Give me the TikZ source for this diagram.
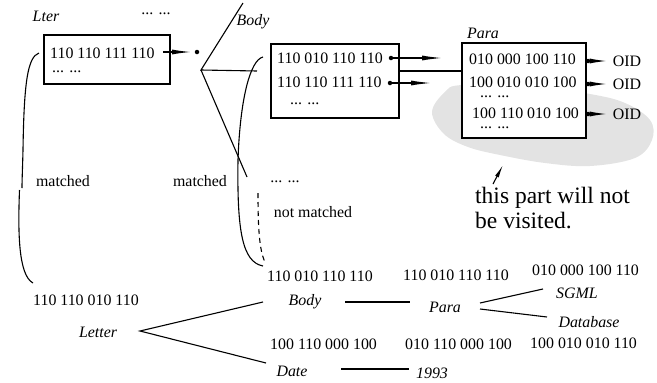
\documentclass[tikz,border=0pt]{standalone}
\usepackage{fontspec}
\setmainfont{Liberation Serif}
\usetikzlibrary{arrows.meta}
\begin{document}
\begin{tikzpicture}[x=1pt,y=-1pt,
  txt/.style={font=\fontsize{15.9}{17}\selectfont, inner sep=0pt},
  lab/.style={font=\fontsize{15.9}{17}\selectfont\itshape, inner sep=0pt},
  note/.style={font=\fontsize{23.5}{25}\selectfont, inner sep=0pt, align=left},
  recbox/.style={draw, fill=white, line width=1.4pt, inner sep=0pt},
  ln/.style={line width=1.1pt},
  dotm/.style={circle, fill, inner sep=0pt, minimum size=4.5pt},
  tipline/.style={ln, -{Latex[length=#1, width=5pt]}},
  tipline/.default=20pt]
\useasboundingbox (0,0) rectangle (657,383);

% shaded region that is skipped
\fill[gray!22] plot[smooth cycle, tension=0.6] coordinates
  {(432,112) (445,92) (462,85) (530,86) (590,94) (625,103) (650,120)
   (652,140) (635,158) (590,166) (545,163) (500,155) (468,147) (444,134)};

% ---------- Letter level ----------
\node[lab] (lter) at (46,16) {Lter};
\node[txt] (topdots) at (156,14) {... ...};
\node[recbox, minimum width=126pt, minimum height=49pt] (box1) at (107,59.5) {};
\node[txt, anchor=west] (b1r1) at (50,53) {110 110 111 110};
\node[txt, anchor=west] (b1r2) at (52,72) {... ...};
\node[dotm] (dot1) at (197,52) {};
\coordinate (b1out) at (163,52);
\draw[tipline=19pt] (b1out) -- ([xshift=-6pt]dot1.center);

% ---------- fork towards Body ----------
\coordinate (fork) at (201,70);
\coordinate (forktop) at (243,3);
\coordinate (forkmid) at (257,71);
\coordinate (forklow) at (247,177);
\draw[ln] (forktop) -- (fork) -- (forkmid);
\draw[ln] (fork) -- (forklow);
\node[lab] (bodytop) at (253,22) {Body};

% ---------- Body level ----------
\node[recbox, minimum width=128pt, minimum height=74pt] (box2) at (335,81) {};
\node[txt, anchor=west] (b2r1) at (277,58) {110 010 110 110};
\node[txt, anchor=west] (b2r2) at (277,82) {110 110 111 110};
\node[txt, anchor=west] (b2r3) at (290,104) {... ...};
\node[dotm] (dot2) at (391,58) {};
\node[dotm] (dot3) at (390,83) {};
\coordinate (a2end) at (442,58);
\coordinate (a3end) at (431,83);
\draw[tipline] (dot2.center) -- (a2end);
\draw[tipline] (dot3.center) -- (a3end);

% ---------- Para level ----------
\node[lab] (paratop) at (483,33) {Para};
\node[recbox, minimum width=124pt, minimum height=95pt] (pbox) at (524,90.5) {};
\draw[ln] ([yshift=10pt]box2.east) -- ([yshift=10pt]box2.east -| pbox.west);
\node[txt, anchor=west] (pr1) at (469,59) {010 000 100 110};
\node[txt, anchor=west] (pr2) at (469,82) {100 010 010 100};
\node[txt, anchor=west] (pr3) at (480,97) {... ...};
\node[txt, anchor=west] (pr4) at (472,113) {100 110 010 100};
\node[txt, anchor=west] (pr5) at (480,128) {... ...};
\foreach \i/\y in {1/61,2/84,3/114}{
  \node[dotm] (od\i) at (588,\y) {};
  \node[txt] (oid\i) at (627,\y) {OID};
  \draw[tipline=17pt] (od\i.center) -- ([xshift=-6pt]oid\i.west);
}

% ---------- note ----------
\node[note, anchor=base west] (skip) at (475,228) {this part will not\\be visited.};
\coordinate (ptail) at (493,184);
\coordinate (phead) at (503,165);
\draw[ln, -{Latex[length=13pt, width=4pt]}] (ptail) -- (phead);

% ---------- matching brackets ----------
\draw[ln] (39,53) .. controls (28,57) and (24,80) .. (23,150)
          .. controls (22.5,170) and (22,180) .. (22,188);
\draw[ln] (19.5,190) .. controls (18,230) and (18,275) .. (33,283);
\node[txt] (m1) at (63,181) {matched};
\draw[ln] (263,57) .. controls (250,60) and (240,100) .. (238,160)
          .. controls (237,230) and (242,262) .. (263,266);
\node[txt] (m2) at (200,181) {matched};
\node[txt] (bdots) at (285,182) {... ...};
\draw[ln, dash pattern=on 5pt off 4pt] (258,193) .. controls (258,225) and (259,250) .. (265,262);
\node[txt] (nm) at (313,212) {not matched};

% ---------- bottom tree ----------
\node[txt, anchor=west] (cletter) at (33,300) {110 110 010 110};
\node[lab] (letter) at (98,332) {Letter};
\node[txt, anchor=west] (cbody) at (267,276) {110 010 110 110};
\node[lab] (body) at (305,302) {Body};
\node[txt, anchor=west] (cdate) at (270,344) {100 110 000 100};
\node[lab] (date) at (292,371) {Date};
\node[txt, anchor=west] (cpara) at (403,275) {110 010 110 110};
\node[lab] (para) at (445,307) {Para};
\node[txt, anchor=west] (c1993) at (405,344) {010 110 000 100};
\node[lab] (y1993) at (432,373) {1993};
\node[txt, anchor=west] (csgml) at (532,270) {010 000 100 110};
\node[lab] (sgml) at (577,293) {SGML};
\node[txt, anchor=west] (cdb) at (530,343) {100 010 010 110};
\node[lab] (db) at (589,322) {Database};

\coordinate (le) at (140,331);
\coordinate (bw) at (263,302);
\coordinate (dw) at (266,363);
\coordinate (be) at (345,302);
\coordinate (pw) at (410,302);
\coordinate (de) at (341,369);
\coordinate (yw) at (409,369);
\coordinate (pe1) at (480,303);
\coordinate (pe2) at (480,309);
\coordinate (sw) at (543,289);
\coordinate (dbw) at (547,317);
\draw[ln] (bw) -- (le) -- (dw);
\draw[ln] (be) -- (pw);
\draw[ln] (de) -- (yw);
\draw[ln] (pe1) -- (sw);
\draw[ln] (pe2) -- (dbw);
\end{tikzpicture}
\end{document}
